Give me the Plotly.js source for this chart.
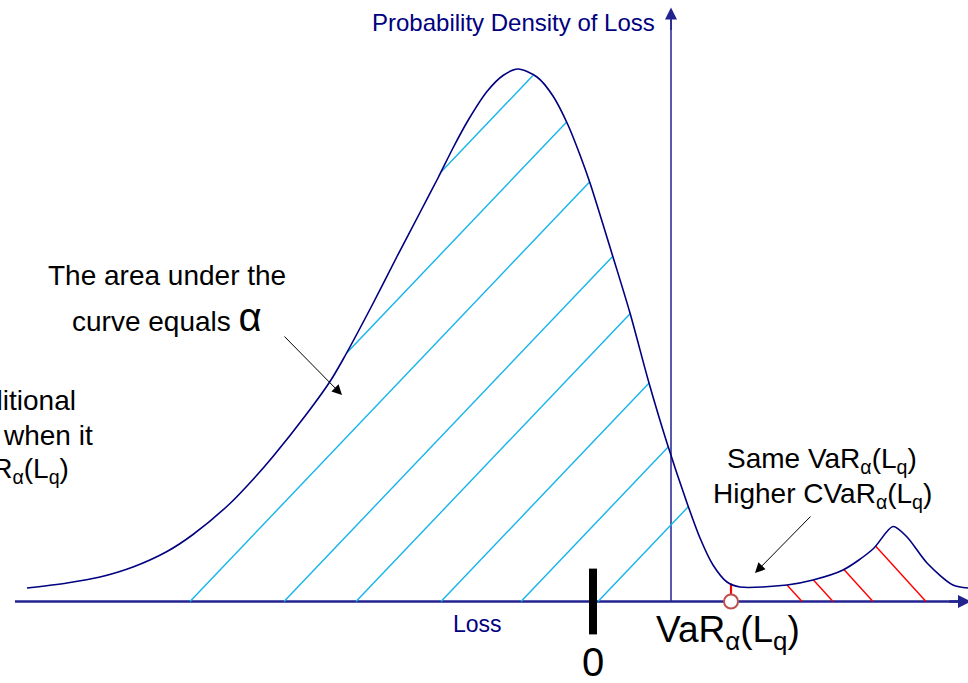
<!DOCTYPE html>
<html>
<head>
<meta charset="utf-8">
<script src="https://cdn.plot.ly/plotly-3.0.1.min.js"></script>
<style>
  html, body { margin: 0; padding: 0; background: #ffffff; }
  #chart { width: 968px; height: 683px; }
</style>
</head>
<body>
<div id="chart"></div>
<script>
// Loss density: loss on x (0 = zero loss), density on y (0 = loss axis)
const lossX = [-566, -526, -493, -460, -426, -400, -363, -340, -320, -286, -263, -250, -220, -196, -173, -155, -140, -125, -106, -90, -75, -56, -40, -25, -13, -3, 20, 37, 56, 74, 93, 107, 120, 134, 147, 194, 220, 250, 280, 300, 314, 334, 360, 375];
const densityY = [13.5, 18.5, 24.5, 34.5, 50, 67, 98, 122, 145, 188, 220, 242, 298, 345, 389, 423.5, 453.5, 481, 510, 526, 532.5, 524.5, 505.5, 476.5, 446.5, 418.5, 344.5, 288.5, 218.5, 158.5, 101.5, 63.5, 36.5, 19.5, 14.5, 16.5, 21.5, 31.5, 52.5, 75, 64.5, 38.5, 16.5, 13.5];

// Value at risk and the zero-loss tick
const varLoss = 138;
const zeroLoss = 0;

// Where each hatch line meets the loss axis (extended), body area and tail area
const bodyHatchStarts = [-561, -483, -403, -309, -237, -152, -72, 5];
const tailHatchStarts = [209, 240, 280, 333];

const NAVY = '#000080';
const AXIS = '#232390';
const CYAN = '#14b4ea';
const RED = '#ff0000';
const FONT = 'Arial, "Liberation Sans", sans-serif';

function densityAt(x) {
  if (x < lossX[0] || x > lossX[lossX.length - 1]) return 0;
  for (let i = 1; i < lossX.length; i++) {
    if (x <= lossX[i]) {
      const t = (x - lossX[i - 1]) / (lossX[i] - lossX[i - 1]);
      return densityY[i - 1] + t * (densityY[i] - densityY[i - 1]);
    }
  }
  return 0;
}

// Clip a straight hatch line (x = c + dir*y/slope) to the area under the curve,
// between minX and maxX; keeps the first or the last piece that lies inside.
function hatchSegment(c, slope, dir, minX, maxX, pick) {
  const runs = [];
  let cur = null;
  for (let y = 0; y <= 600; y += 0.25) {
    const x = c + dir * y / slope;
    const inside = y <= densityAt(x) && x >= minX && x <= maxX;
    if (inside) {
      if (!cur) cur = { a: [x, y], b: [x, y] };
      else cur.b = [x, y];
    } else if (cur) {
      runs.push(cur);
      cur = null;
    }
  }
  if (cur) runs.push(cur);
  if (!runs.length) return null;
  return pick === 'first' ? runs[0] : runs[runs.length - 1];
}

function hatchTrace(starts, slope, dir, minX, maxX, pick, color) {
  const xs = [], ys = [];
  starts.forEach(c => {
    const seg = hatchSegment(c, slope, dir, minX, maxX, pick);
    if (seg) {
      xs.push(seg.a[0], seg.b[0], null);
      ys.push(seg.a[1], seg.b[1], null);
    }
  });
  return { type: 'scatter', mode: 'lines', x: xs, y: ys,
           line: { color: color, width: 1.4 }, hoverinfo: 'skip' };
}

const traces = [
  hatchTrace(bodyHatchStarts, 1.05, 1, -1000, varLoss, 'last', CYAN),
  hatchTrace(tailHatchStarts, 1.1, -1, varLoss, 1000, 'first', RED),
  { type: 'scatter', mode: 'lines', x: [varLoss, varLoss], y: [0, densityAt(varLoss)],
    line: { color: RED, width: 2.2 }, hoverinfo: 'skip' },
  { type: 'scatter', mode: 'lines', x: lossX, y: densityY,
    line: { color: NAVY, width: 1.6, shape: 'spline', smoothing: 0.8 }, hoverinfo: 'skip' },
  { type: 'scatter', mode: 'markers', x: [zeroLoss], y: [0],
    marker: { symbol: 'line-ns', size: 47, color: '#000000',
              line: { color: '#000000', width: 8 } }, hoverinfo: 'skip' },
  { type: 'scatter', mode: 'markers', x: [varLoss], y: [0],
    marker: { symbol: 'circle', size: 14, color: '#ffffff',
              line: { color: '#c0504d', width: 2 } }, hoverinfo: 'skip' }
];

function label(x, y, text, opts) {
  return Object.assign({ x: x, y: y, xref: 'x', yref: 'y', text: text, showarrow: false,
                         xanchor: 'center', yanchor: 'middle',
                         font: { family: FONT, size: 28, color: '#000000' } }, opts || {});
}

function arrow(x, y, ax, ay, color, width, size) {
  return { x: x, y: y, ax: ax, ay: ay, xref: 'x', yref: 'y', axref: 'x', ayref: 'y',
           text: '', showarrow: true, arrowhead: 2, arrowcolor: color,
           arrowwidth: width, arrowsize: size, standoff: 0, startstandoff: 0 };
}

const layout = {
  width: 968, height: 683,
  margin: { l: 0, r: 0, t: 0, b: 0 },
  paper_bgcolor: '#ffffff', plot_bgcolor: '#ffffff',
  showlegend: false,
  xaxis: { range: [-593, 375], visible: false, fixedrange: true },
  yaxis: { range: [-81.5, 601.5], visible: false, fixedrange: true },
  shapes: [
    { type: 'line', xref: 'x', yref: 'y', x0: -578, x1: 370, y0: 0, y1: 0,
      line: { color: AXIS, width: 2.6 }, layer: 'below' },
    { type: 'line', xref: 'x', yref: 'y', x0: 78, x1: 78, y0: 0, y1: 585,
      line: { color: AXIS, width: 1.5 }, layer: 'below' }
  ],
  annotations: [
    arrow(378, 0, 355, 0, AXIS, 2.6, 1),
    arrow(78, 594, 78, 570, AXIS, 1.5, 1.6),
    arrow(-251, 206.5, -310, 266.5, '#000000', 1, 2),
    arrow(162, 28.5, 219, 86.5, '#000000', 1, 2),
    label(64, 579.5, 'Probability Density of Loss',
          { xanchor: 'right', font: { family: FONT, size: 24, color: NAVY } }),
    label(-116, -22.5, 'Loss', { font: { family: FONT, size: 23, color: NAVY } }),
    label(zeroLoss, -36, '0', { yanchor: 'top', font: { family: FONT, size: 40, color: '#000000' } }),
    label(135, -30, 'VaR<sub>α</sub>(L<sub>q</sub>)',
          { font: { family: FONT, size: 37, color: '#000000' } }),
    label(-426, 326.5, 'The area under the'),
    label(-426, 284.5, 'curve equals <span style="font-size:40px">α</span>'),
    label(229, 141.5, 'Same VaR<sub>α</sub>(L<sub>q</sub>)', { font: { family: FONT, size: 28, color: '#000000' } }),
    label(229, 106.5, 'Higher CVaR<sub>α</sub>(L<sub>q</sub>)', { font: { family: FONT, size: 28, color: '#000000' } }),
    label(-515, 201.5, 'CVaR is the conditional', { xanchor: 'right' }),
    label(-498, 166.5, 'expected loss when it', { xanchor: 'right' }),
    label(-522, 131.5, 'exceeds VaR<sub>α</sub>(L<sub>q</sub>)', { xanchor: 'right' })
  ]
};

Plotly.newPlot('chart', traces, layout, { displayModeBar: false, staticPlot: true });
</script>
</body>
</html>
